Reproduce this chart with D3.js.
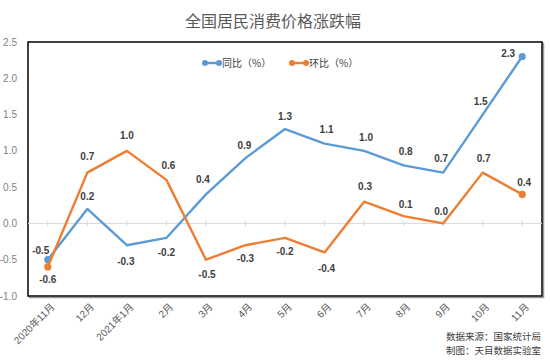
<!DOCTYPE html>
<html>
<head>
<meta charset="utf-8">
<script src="https://cdn.jsdelivr.net/npm/d3@7/dist/d3.min.js"></script>
<style>
  body { margin: 0; background: #fff; }
  text { font-family: "Liberation Sans", "Noto Sans CJK SC", sans-serif; }
</style>
</head>
<body>
<div id="chart"></div>
<script>
var months = ["2020年11月", "12月", "2021年1月", "2月", "3月", "4月", "5月", "6月", "7月", "8月", "9月", "10月", "11月"];
var yoy = [-0.5, 0.2, -0.3, -0.2, 0.4, 0.9, 1.3, 1.1, 1.0, 0.8, 0.7, 1.5, 2.3];   // 同比
var mom = [-0.6, 0.7, 1.0, 0.6, -0.5, -0.3, -0.2, -0.4, 0.3, 0.1, 0.0, 0.7, 0.4]; // 环比
var yTicks = [-1.0, -0.5, 0.0, 0.5, 1.0, 1.5, 2.0, 2.5];

(function(){
  var width = 550,
    height = 362;
  var margin = {left: 28, right: 8, top: 42, bottom: 66};

  var svg = d3.select("#chart")
    .append("svg")
    .attr("width", width)
    .attr("height", height);

  var x = d3.scalePoint()
    .domain(months)
    .range([margin.left, width - margin.right])
    .padding(0.5);

  var y = d3.scaleLinear()
    .domain([-1.0, 2.5])
    .range([height - margin.bottom, margin.top]);

  // title
  svg.append("text")
    .attr("x", 273)
    .attr("y", 27)
    .attr("text-anchor", "middle")
    .style("font-family", "'Noto Sans CJK SC', sans-serif")
    .style("font-size", "16px")
    .style("fill", "#595959")
    .text("全国居民消费价格涨跌幅");

  // plot box (with a little shadow on the right/bottom)
  svg.append("rect")
    .attr("x", margin.left + 1.5)
    .attr("y", margin.top + 1.5)
    .attr("width", width - margin.left - margin.right)
    .attr("height", height - margin.top - margin.bottom)
    .attr("fill", "none")
    .attr("stroke", "#9a9a9a")
    .attr("stroke-width", 1.5);
  svg.append("rect")
    .attr("x", margin.left)
    .attr("y", margin.top)
    .attr("width", width - margin.left - margin.right)
    .attr("height", height - margin.top - margin.bottom)
    .attr("fill", "#fff")
    .attr("stroke", "#111")
    .attr("stroke-width", 1.6);

  // y axis labels
  svg.append("g")
    .selectAll("text")
    .data(yTicks)
    .enter().append("text")
    .attr("x", 17)
    .attr("y", function(d){ return y(d); })
    .attr("dy", "0.35em")
    .attr("text-anchor", "end")
    .style("font-size", "10px")
    .style("fill", "#7f7f7f")
    .text(function(d){ return d.toFixed(1); });

  // zero line + category ticks
  svg.append("line")
    .attr("x1", margin.left)
    .attr("x2", width - margin.right)
    .attr("y1", y(0))
    .attr("y2", y(0))
    .attr("stroke", "#d9d9d9")
    .attr("stroke-width", 1);
  svg.append("g")
    .selectAll("line")
    .data(months)
    .enter().append("line")
    .attr("x1", function(d){ return x(d); })
    .attr("x2", function(d){ return x(d); })
    .attr("y1", y(0) - 3)
    .attr("y2", y(0) + 3)
    .attr("stroke", "#d9d9d9");

  // x labels, rotated
  svg.append("g")
    .selectAll("text")
    .data(months)
    .enter().append("text")
    .attr("transform", function(d){
      return "translate(" + (x(d) + 5) + "," + (height - margin.bottom + 9) + ") rotate(-45)";
    })
    .attr("text-anchor", "end")
    .attr("dy", "0.35em")
    .style("font-size", "10px")
    .style("fill", "#595959")
    .text(function(d){ return d; });

  var series = [
    {name: "同比（%）", values: yoy, color: "#5b9bd5",
     // label offsets [dx, dy] from the point
     offs: [[-7,-9],[0,-12],[-1,16],[0,15],[-3,-15],[-1,-13],[0,-13],[2,-14],[2,-13],[2,-14],[-2,-14],[-2,-13],[-14,-3]]},
    {name: "环比（%）", values: mom, color: "#ed7d31",
     offs: [[0,13],[0,-16],[0,-15],[2,-14],[1,15],[0,13],[0,14],[2,16],[1,-15],[2,-12],[-2,-12],[1,-14],[2,-12]]}
  ];

  var line = d3.line()
    .x(function(d, i){ return x(months[i]); })
    .y(function(d){ return y(d); });

  series.forEach(function(s){
    svg.append("path")
      .datum(s.values)
      .attr("d", line)
      .attr("fill", "none")
      .attr("stroke", s.color)
      .attr("stroke-width", 2.4)
      .attr("stroke-linejoin", "round");

    // markers only on the first and last point
    [0, s.values.length - 1].forEach(function(i){
      svg.append("circle")
        .attr("cx", x(months[i]))
        .attr("cy", y(s.values[i]))
        .attr("r", 3.6)
        .attr("fill", s.color);
    });
  });

  series.forEach(function(s){
    svg.append("g")
      .selectAll("text")
      .data(s.values)
      .enter().append("text")
      .attr("x", function(d, i){ return x(months[i]) + s.offs[i][0]; })
      .attr("y", function(d, i){ return y(d) + s.offs[i][1]; })
      .attr("dy", "0.35em")
      .attr("text-anchor", "middle")
      .style("font-size", "10px")
      .style("font-weight", "bold")
      .style("fill", "#404040")
      .text(function(d){ return d.toFixed(1); });
  });

  // legend
  var legend = svg.append("g");
  var legX = [203, 290];
  series.forEach(function(s, i){
    var g = legend.append("g").attr("transform", "translate(" + legX[i] + ",63)");
    g.append("line").attr("x1", 0).attr("x2", 18).attr("stroke", s.color).attr("stroke-width", 2.4);
    g.append("circle").attr("cx", 2).attr("r", 3).attr("fill", s.color);
    g.append("circle").attr("cx", 16).attr("r", 3).attr("fill", s.color);
    g.append("text")
      .attr("x", 19)
      .attr("dy", "0.35em")
      .style("font-family", "'Noto Sans CJK SC', sans-serif")
      .style("font-size", "10px")
      .style("fill", "#404040")
      .text(s.name);
  });

  // source note
  var notes = ["数据来源：国家统计局", "制图：天目数据实验室"];
  svg.append("g")
    .selectAll("text")
    .data(notes)
    .enter().append("text")
    .attr("x", 541)
    .attr("y", function(d, i){ return 337 + i * 14; })
    .attr("dy", "0.35em")
    .attr("text-anchor", "end")
    .style("font-family", "'Noto Sans CJK SC', sans-serif")
    .style("font-size", "9.5px")
    .style("fill", "#404040")
    .text(function(d){ return d; });
})();
</script>
</body>
</html>
